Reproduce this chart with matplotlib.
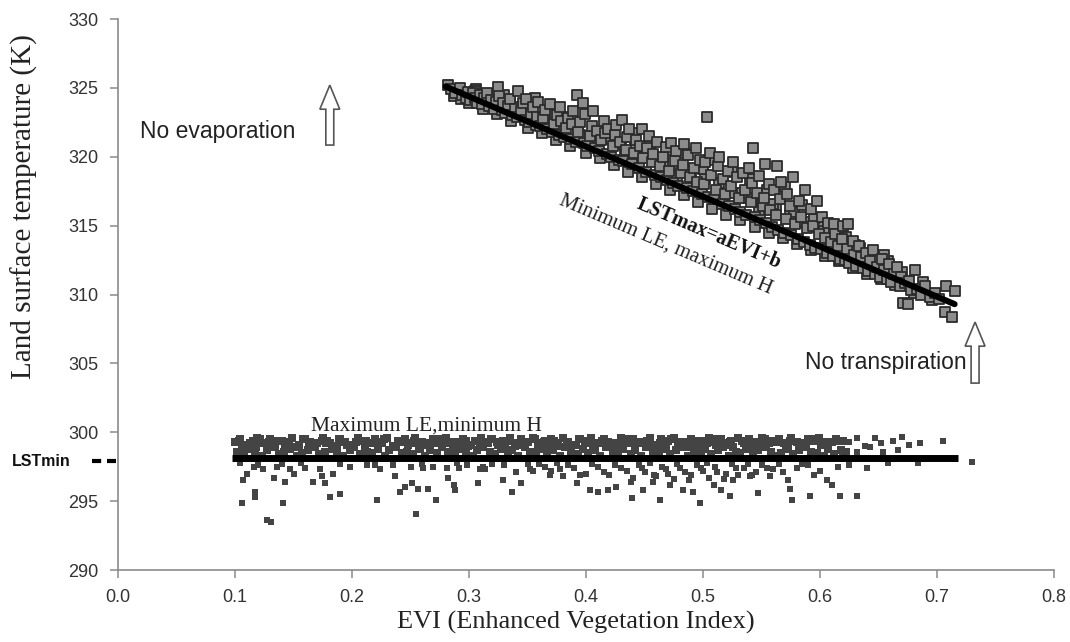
import matplotlib
matplotlib.use("Agg")
import matplotlib.pyplot as plt
from matplotlib.patches import FancyArrow
from matplotlib.ticker import FormatStrFormatter

# upper (dry edge) cloud
upper_evi = [
    0.282, 0.285, 0.288, 0.292, 0.294, 0.297, 0.299,
    0.301, 0.303, 0.305, 0.307, 0.309,
    0.311, 0.313, 0.315, 0.317, 0.319,
    0.321, 0.323, 0.325, 0.326, 0.328, 0.329,
    0.331, 0.333, 0.335, 0.337, 0.339,
    0.342, 0.341, 0.344, 0.346, 0.348, 0.349,
    0.351, 0.353, 0.355, 0.357, 0.359, 0.358,
    0.361, 0.363, 0.365, 0.367, 0.369,
    0.371, 0.373, 0.375, 0.377, 0.379, 0.378,
    0.381, 0.383, 0.385, 0.387, 0.389, 0.388,
    0.392, 0.391, 0.393, 0.395, 0.397, 0.398, 0.399,
    0.401, 0.403, 0.405, 0.406, 0.408, 0.409,
    0.411, 0.413, 0.415, 0.416, 0.418, 0.419,
    0.421, 0.423, 0.425, 0.426, 0.428, 0.429,
    0.431, 0.432, 0.434, 0.435, 0.437, 0.439,
    0.441, 0.443, 0.445, 0.446, 0.448, 0.449,
    0.451, 0.452, 0.454, 0.456, 0.457, 0.459,
    0.461, 0.463, 0.464, 0.466, 0.468, 0.469,
    0.471, 0.473, 0.474, 0.476, 0.477, 0.479,
    0.481, 0.483, 0.484, 0.486, 0.487, 0.489,
    0.491, 0.492, 0.494, 0.495, 0.497, 0.499,
    0.503, 0.501, 0.502, 0.504, 0.506, 0.507, 0.509,
    0.511, 0.513, 0.514, 0.516, 0.517, 0.519,
    0.521, 0.522, 0.524, 0.526, 0.527, 0.529,
    0.531, 0.532, 0.534, 0.536, 0.537, 0.539,
    0.543, 0.541, 0.542, 0.544, 0.546, 0.548, 0.549,
    0.553, 0.551, 0.552, 0.554, 0.556, 0.557, 0.559,
    0.563, 0.561, 0.562, 0.564, 0.566, 0.567, 0.569,
    0.571, 0.572, 0.574, 0.575, 0.577, 0.579,
    0.581, 0.582, 0.584, 0.586, 0.587, 0.589,
    0.591, 0.592, 0.594, 0.596, 0.597, 0.599,
    0.601, 0.602, 0.604, 0.606, 0.607, 0.609,
    0.612, 0.611, 0.613, 0.615, 0.617, 0.619,
    0.620, 0.624, 0.621, 0.623, 0.625, 0.628, 0.629,
    0.631, 0.633, 0.635, 0.637, 0.639,
    0.641, 0.643, 0.645, 0.647, 0.649,
    0.651, 0.653, 0.655, 0.657, 0.659,
    0.661, 0.663, 0.666, 0.668, 0.669,
    0.671, 0.675, 0.673, 0.676, 0.678,
    0.681, 0.683, 0.686, 0.690, 0.694, 0.698, 0.702, 0.707, 0.708, 0.713, 0.715,
]
upper_lst = [
    325.2, 324.9, 324.6, 325.0, 324.5, 324.3, 324.7,
    324.1, 324.6, 324.3, 323.9, 324.5,
    323.8, 324.3, 324.6, 323.7, 324.1,
    323.5, 324.0, 325.1, 324.4, 323.4, 323.9,
    323.2, 323.7, 324.2, 323.0, 323.5,
    324.8, 322.9, 323.3, 323.9, 322.7, 324.2,
    322.5, 323.1, 323.6, 322.3, 324.0, 322.9,
    322.2, 322.8, 323.4, 322.0, 323.8,
    321.8, 322.4, 323.0, 321.6, 322.6, 323.6,
    321.4, 322.1, 322.8, 321.3, 323.3, 322.4,
    324.5, 321.1, 321.8, 322.5, 323.9, 321.0, 323.1,
    320.8, 321.5, 322.2, 323.3, 320.6, 321.9,
    320.4, 321.2, 322.6, 321.7, 320.2, 322.0,
    320.0, 320.8, 321.6, 322.3, 319.8, 321.1,
    322.7, 319.7, 320.5, 321.4, 322.0, 319.5,
    320.3, 321.2, 319.2, 320.8, 322.0, 319.9,
    318.9, 320.6, 321.5, 319.6, 320.2, 318.7,
    321.1, 319.3, 318.5, 320.0, 320.7, 318.3,
    319.0, 321.0, 318.1, 319.7, 320.4, 317.9,
    318.8, 319.4, 320.9, 317.7, 320.1, 318.5,
    317.5, 319.2, 320.6, 318.2, 319.8, 317.3,
    322.9, 318.0, 319.6, 317.1, 320.3, 318.7, 316.9,
    317.6, 319.3, 320.0, 316.6, 318.4, 317.3,
    319.0, 316.4, 317.9, 319.6, 316.2, 318.5,
    317.0, 316.0, 318.8, 317.6, 315.8, 319.2,
    320.6, 316.7, 318.1, 315.6, 317.4, 318.6, 315.4,
    319.5, 316.4, 317.0, 315.2, 318.0, 316.1, 314.9,
    319.3, 317.6, 315.8, 314.7, 316.9, 318.2, 314.5,
    315.5, 317.3, 316.4, 314.3, 318.5, 315.1,
    314.0, 316.8, 315.6, 313.8, 317.6, 314.8,
    313.6, 316.2, 315.0, 313.4, 316.8, 314.4,
    313.3, 315.6, 314.1, 313.0, 315.2, 313.8,
    315.1, 312.8, 314.4, 313.5, 312.6, 314.0,
    315.0, 315.1, 312.5, 313.3, 312.3, 313.9, 312.9,
    312.1, 313.5, 312.7, 311.9, 313.0,
    311.7, 312.4, 313.2, 311.5, 312.0,
    311.3, 312.6, 311.8, 311.1, 312.2,
    310.9, 311.5, 312.0, 310.6, 311.3,
    309.4, 309.3, 310.8, 311.0, 310.3,
    311.8, 310.4, 310.0, 310.6, 309.8, 310.1, 309.7, 308.7, 310.6, 308.4, 310.25,
]
# more points inside the dry cloud body
upper_fill_evi = [
    0.287, 0.293, 0.300, 0.306, 0.312, 0.318, 0.324, 0.330, 0.336, 0.343,
    0.350, 0.356, 0.362, 0.368, 0.374, 0.380, 0.386, 0.393, 0.400, 0.406,
    0.412, 0.418, 0.424, 0.430, 0.436, 0.442, 0.448, 0.454, 0.460, 0.466,
    0.472, 0.478, 0.484, 0.490, 0.496, 0.502, 0.508, 0.514, 0.520, 0.526,
    0.532, 0.538, 0.544, 0.550, 0.556, 0.562, 0.568, 0.574, 0.580, 0.586,
    0.592, 0.598, 0.604, 0.610, 0.616, 0.622, 0.628, 0.634, 0.640, 0.646,
    0.652, 0.658, 0.664, 0.670, 0.680, 0.688, 0.696,
    0.455, 0.462, 0.470, 0.478, 0.485, 0.493, 0.500, 0.510, 0.518, 0.525,
    0.533, 0.540, 0.548, 0.555, 0.560, 0.570, 0.578, 0.585, 0.595, 0.603,
    0.615, 0.630, 0.645, 0.655, 0.665, 0.380, 0.395, 0.410, 0.420, 0.433,
    0.440, 0.350, 0.365, 0.335, 0.320, 0.305,
]
upper_fill_lst = [
    324.4, 324.2, 323.9, 324.9, 323.5, 324.4, 323.1, 324.5, 322.6, 323.6,
    322.1, 324.3, 321.7, 323.1, 321.2, 322.9, 320.8, 322.2, 320.3, 321.8,
    319.9, 321.4, 319.4, 320.9, 318.9, 320.6, 318.5, 320.0, 318.0, 319.6,
    317.6, 319.1, 317.2, 318.9, 316.7, 318.4, 316.2, 318.1, 315.8, 317.4,
    315.4, 317.0, 314.9, 316.6, 314.5, 316.3, 314.1, 315.8, 313.7, 315.3,
    313.2, 314.9, 312.8, 314.6, 312.4, 314.2, 311.9, 313.4, 311.5, 312.8,
    311.1, 312.4, 310.7, 311.6, 310.1, 310.9, 309.6,
    320.9, 319.8, 320.5, 318.6, 320.3, 318.0, 319.1, 319.8, 317.0, 318.9,
    317.4, 318.4, 316.0, 317.6, 316.6, 317.8, 316.0, 316.5, 315.5, 314.6,
    314.8, 313.6, 312.5, 312.9, 311.9, 321.9, 321.6, 320.9, 321.3, 320.2,
    321.7, 323.4, 322.6, 323.9, 323.9, 324.8,
]

# lower (wet edge) cloud, band above the wet edge in rows
band_top_evi = [
    0.100, 0.104, 0.110, 0.115, 0.119, 0.125, 0.130, 0.134, 0.140, 0.145,
    0.149, 0.155, 0.160, 0.164, 0.170, 0.175, 0.179, 0.185, 0.190, 0.194,
    0.200, 0.205, 0.209, 0.215, 0.220, 0.224, 0.230, 0.235, 0.239, 0.245,
    0.250, 0.254, 0.260, 0.265, 0.269, 0.275, 0.280, 0.284, 0.290, 0.295,
    0.299, 0.305, 0.310, 0.314, 0.320, 0.325, 0.329, 0.335, 0.340, 0.344,
    0.350, 0.355, 0.359, 0.365, 0.370, 0.374, 0.380, 0.385, 0.389, 0.395,
    0.400, 0.404, 0.410, 0.415, 0.419, 0.425, 0.430, 0.434, 0.440, 0.445,
    0.449, 0.455, 0.460, 0.464, 0.470, 0.475, 0.479, 0.485, 0.490, 0.494,
    0.500, 0.505, 0.509, 0.515, 0.520, 0.524, 0.530, 0.535, 0.539, 0.545,
    0.550, 0.554, 0.560, 0.565, 0.569, 0.575, 0.580, 0.584, 0.590, 0.595,
    0.599, 0.605, 0.610, 0.614, 0.620,
]
band_top_lst = [
    299.3, 299.5, 299.1, 299.4, 299.6, 299.2, 299.5, 299.0, 299.4, 299.3,
    299.6, 299.1, 299.5, 299.3, 299.2, 299.6, 299.4, 299.0, 299.5, 299.3,
    299.1, 299.6, 299.4, 299.2, 299.5, 299.3, 299.6, 299.0, 299.4, 299.5,
    299.2, 299.6, 299.3, 299.1, 299.5, 299.4, 299.6, 299.2, 299.3, 299.5,
    299.0, 299.4, 299.6, 299.3, 299.5, 299.1, 299.4, 299.6, 299.2, 299.5,
    299.3, 299.6, 299.0, 299.4, 299.5, 299.2, 299.6, 299.3, 299.1, 299.5,
    299.4, 299.6, 299.2, 299.5, 299.3, 299.0, 299.6, 299.4, 299.5, 299.2,
    299.3, 299.6, 299.1, 299.5, 299.4, 299.6, 299.2, 299.3, 299.5, 299.0,
    299.4, 299.6, 299.3, 299.5, 299.1, 299.4, 299.6, 299.2, 299.5, 299.3,
    299.6, 299.0, 299.4, 299.5, 299.2, 299.6, 299.3, 299.1, 299.5, 299.4,
    299.6, 299.2, 299.3, 299.5, 299.4,
]
band_upper_evi = [
    0.103, 0.113, 0.121, 0.129, 0.137, 0.146, 0.158, 0.163, 0.174, 0.181,
    0.189, 0.203, 0.212, 0.219, 0.227, 0.241, 0.253, 0.263, 0.276, 0.283,
    0.297, 0.309, 0.319, 0.324, 0.334, 0.347, 0.356, 0.364, 0.373, 0.384,
    0.394, 0.403, 0.414, 0.424, 0.433, 0.443, 0.452, 0.463, 0.473, 0.482,
    0.493, 0.503, 0.512, 0.523, 0.533, 0.542, 0.553, 0.563, 0.574, 0.583,
    0.594, 0.604, 0.616,
]
band_upper_lst = [
    299.4, 299.2, 299.5, 299.3, 299.4, 299.2, 299.5, 299.3, 299.4, 299.2,
    299.5, 299.3, 299.4, 299.2, 299.5, 299.3, 299.4, 299.2, 299.5, 299.3,
    299.4, 299.2, 299.5, 299.3, 299.4, 299.2, 299.5, 299.3, 299.4, 299.2,
    299.5, 299.3, 299.4, 299.2, 299.5, 299.3, 299.4, 299.2, 299.5, 299.3,
    299.4, 299.2, 299.5, 299.3, 299.4, 299.2, 299.5, 299.3, 299.4, 299.2,
    299.5, 299.3, 299.4,
]
band_bot_evi = [
    0.102, 0.108, 0.112, 0.117, 0.123, 0.127, 0.132, 0.138, 0.142, 0.147,
    0.153, 0.157, 0.162, 0.168, 0.172, 0.177, 0.183, 0.187, 0.192, 0.198,
    0.202, 0.207, 0.213, 0.217, 0.222, 0.228, 0.232, 0.237, 0.243, 0.247,
    0.252, 0.258, 0.262, 0.267, 0.273, 0.277, 0.282, 0.288, 0.292, 0.297,
    0.303, 0.307, 0.312, 0.318, 0.322, 0.327, 0.333, 0.337, 0.342, 0.348,
    0.352, 0.357, 0.363, 0.367, 0.372, 0.378, 0.382, 0.387, 0.393, 0.397,
    0.402, 0.408, 0.412, 0.417, 0.423, 0.427, 0.432, 0.438, 0.442, 0.447,
    0.453, 0.457, 0.462, 0.468, 0.472, 0.477, 0.483, 0.487, 0.492, 0.498,
    0.502, 0.507, 0.513, 0.517, 0.522, 0.528, 0.532, 0.537, 0.543, 0.547,
    0.552, 0.558, 0.562, 0.567, 0.573, 0.577, 0.582, 0.588, 0.592, 0.597,
    0.603, 0.607, 0.612, 0.618, 0.622,
]
band_bot_lst = [
    298.6, 298.4, 298.8, 298.5, 298.3, 298.7, 298.9, 298.4, 298.6, 298.8,
    298.3, 298.5, 298.7, 298.9, 298.4, 298.6, 298.8, 298.5, 298.3, 298.7,
    298.9, 298.4, 298.6, 298.5, 298.8, 298.3, 298.7, 298.9, 298.5, 298.6,
    298.4, 298.8, 298.3, 298.7, 298.5, 298.9, 298.6, 298.4, 298.8, 298.5,
    298.3, 298.7, 298.9, 298.6, 298.4, 298.8, 298.5, 298.7, 298.3, 298.9,
    298.6, 298.4, 298.8, 298.5, 298.7, 298.3, 298.9, 298.6, 298.4, 298.8,
    298.5, 298.7, 298.3, 298.9, 298.6, 298.5, 298.8, 298.4, 298.7, 298.3,
    298.9, 298.6, 298.5, 298.8, 298.4, 298.7, 298.9, 298.3, 298.6, 298.5,
    298.8, 298.4, 298.7, 298.9, 298.3, 298.6, 298.5, 298.8, 298.4, 298.7,
    298.9, 298.6, 298.3, 298.5, 298.8, 298.4, 298.7, 298.9, 298.6, 298.5,
    298.3, 298.8, 298.4, 298.7, 298.6,
]
band_mid_evi = [
    0.106, 0.118, 0.131, 0.143, 0.152, 0.166, 0.178, 0.187, 0.196, 0.211,
    0.226, 0.238, 0.248, 0.257, 0.271, 0.286, 0.294, 0.302, 0.316, 0.331,
    0.339, 0.346, 0.361, 0.369, 0.376, 0.391, 0.399, 0.406, 0.421, 0.429,
    0.436, 0.451, 0.459, 0.466, 0.481, 0.489, 0.496, 0.511, 0.519, 0.526,
    0.541, 0.549, 0.556, 0.571, 0.586, 0.601,
]
band_mid_lst = [
    299.0, 298.9, 299.2, 299.1, 298.9, 299.0, 299.2, 298.9, 299.1, 299.0,
    299.2, 298.9, 299.1, 299.0, 299.2, 298.9, 299.0, 299.1, 299.2, 298.9,
    299.0, 299.1, 299.2, 298.9, 299.0, 299.1, 299.2, 298.9, 299.0, 299.1,
    299.2, 298.9, 299.0, 299.1, 299.2, 298.9, 299.0, 299.1, 299.2, 298.9,
    299.0, 299.1, 299.2, 298.9, 299.0, 299.1,
]
band_tail_evi = [0.625, 0.632, 0.638, 0.647, 0.652, 0.662, 0.670, 0.676, 0.685,
                 0.705, 0.619, 0.632, 0.654, 0.658, 0.684, 0.730, 0.643, 0.667]
band_tail_lst = [299.3, 299.6, 299.0, 299.6, 299.2, 299.4, 299.65, 299.1, 299.2,
                 299.4, 298.55, 298.55, 298.55, 297.8, 297.8, 297.85, 298.9, 298.7]

# scattered points below the wet edge
low_evi = [
    0.107, 0.106, 0.117, 0.117, 0.110, 0.127, 0.131, 0.133, 0.143, 0.141,
    0.150, 0.167, 0.174, 0.177, 0.181, 0.190, 0.184, 0.221, 0.237, 0.241,
    0.245, 0.251, 0.256, 0.255, 0.265, 0.272, 0.261, 0.282, 0.287, 0.288,
    0.308, 0.309, 0.291,
    0.104, 0.116, 0.124, 0.136, 0.147, 0.156, 0.173, 0.198, 0.213, 0.224,
    0.235, 0.250, 0.269, 0.281, 0.298, 0.312,
    0.314, 0.329, 0.337, 0.344, 0.352, 0.369, 0.378, 0.392, 0.395, 0.403,
    0.410, 0.419, 0.426, 0.439, 0.449, 0.463, 0.457, 0.472, 0.483, 0.491,
    0.497, 0.509, 0.515, 0.523, 0.526, 0.547, 0.540, 0.557, 0.573, 0.574,
    0.576, 0.591, 0.606, 0.610, 0.617, 0.632,
    0.330, 0.340, 0.360, 0.370, 0.385, 0.400, 0.410, 0.420, 0.430, 0.440,
    0.445, 0.450, 0.460, 0.465, 0.470, 0.475, 0.480, 0.490, 0.495, 0.500,
    0.505, 0.510, 0.520, 0.525, 0.530, 0.535, 0.545, 0.550, 0.560, 0.565,
    0.580, 0.590, 0.600, 0.615, 0.625, 0.640,
    0.350, 0.355, 0.365, 0.375, 0.380, 0.390, 0.405, 0.415, 0.425, 0.435,
    0.438, 0.448, 0.455, 0.458, 0.468, 0.478, 0.485, 0.488, 0.498, 0.503,
    0.512, 0.518, 0.528, 0.538, 0.542, 0.555, 0.568, 0.585, 0.595, 0.120,
    0.140, 0.160, 0.190, 0.220, 0.260, 0.290, 0.320,
]
low_lst = [
    296.5, 294.9, 295.7, 295.3, 297.0, 293.6, 293.5, 296.7, 296.4, 294.9,
    297.0, 296.4, 296.8, 296.3, 295.3, 295.5, 297.0, 295.1, 296.8, 295.7,
    296.0, 296.3, 295.9, 294.1, 295.9, 295.1, 297.4, 296.7, 296.2, 295.8,
    296.3, 297.3, 297.4,
    297.8, 297.5, 297.3, 297.5, 297.3, 297.8, 297.3, 297.5, 297.6, 297.3,
    297.6, 297.5, 297.5, 297.4, 297.6, 297.5,
    297.3, 296.5, 295.7, 296.3, 297.3, 296.9, 297.3, 296.3, 296.9, 295.8,
    295.7, 295.8, 296.0, 295.2, 295.8, 295.1, 296.4, 296.2, 295.8, 295.7,
    294.9, 296.2, 295.8, 295.4, 296.5, 295.6, 296.8, 296.8, 296.5, 295.9,
    295.1, 295.4, 296.5, 296.2, 295.4, 295.4,
    297.6, 297.1, 297.7, 297.2, 297.6, 297.0, 297.5, 296.9, 297.4, 296.7,
    297.6, 297.1, 296.8, 297.5, 297.0, 296.6, 297.4, 296.9, 297.6, 297.2,
    296.7, 297.5, 297.0, 297.7, 296.9, 297.4, 297.1, 297.6, 297.3, 297.7,
    297.4, 297.6, 297.2, 297.5, 297.6, 297.4,
    297.7, 297.2, 297.5, 297.8, 296.8, 297.4, 297.7, 297.1, 297.6, 297.2,
    296.4, 297.4, 297.8, 296.9, 297.3, 297.7, 297.1, 296.5, 297.4, 297.8,
    297.1, 296.6, 297.4, 297.7, 296.9, 297.4, 297.1, 297.7, 296.9, 297.6,
    297.7, 297.4, 297.7, 297.6, 297.7, 297.8, 297.7,
]

# fitted edges
dry_evi = [0.28, 0.715]
dry_lst = [325.1, 309.3]
wet_evi = [0.097, 0.718]
wet_lst = [298.1, 298.1]
lst_min = 297.9

sans = "Liberation Sans"
serif = "Liberation Serif"

fig = plt.figure(figsize=(10.7, 6.42), dpi=100)
ax = fig.add_axes([0.1103, 0.1121, 0.8748, 0.8583])

dry_style = dict(marker="s", s=42, facecolor="#8c8c8c", edgecolor="#2b2b2b",
                 linewidths=1.3, zorder=2)
ax.scatter(upper_fill_evi, upper_fill_lst, **dry_style)
ax.scatter(upper_evi, upper_lst, **dry_style)
ax.plot(dry_evi, dry_lst, color="black", lw=4.4, solid_capstyle="round", zorder=3)

band_style = dict(marker="s", s=32, color="#444444", linewidths=0, zorder=2)
ax.scatter(band_top_evi, band_top_lst, **band_style)
ax.scatter(band_upper_evi, band_upper_lst, **band_style)
ax.scatter(band_mid_evi, band_mid_lst, **band_style)
ax.scatter(band_bot_evi, band_bot_lst, **band_style)
low_style = dict(marker="s", s=24, color="#444444", linewidths=0, zorder=2)
ax.scatter(band_tail_evi, band_tail_lst, **low_style)
ax.scatter(low_evi, low_lst, **low_style)
ax.plot(wet_evi, wet_lst, color="black", lw=5, solid_capstyle="butt", zorder=3)

ax.set_xlim(0, 0.8)
ax.set_ylim(290, 330)
ax.set_xticks([0.0, 0.1, 0.2, 0.3, 0.4, 0.5, 0.6, 0.7, 0.8])
ax.set_yticks([290, 295, 300, 305, 310, 315, 320, 325, 330])
ax.xaxis.set_major_formatter(FormatStrFormatter("%.1f"))
ax.yaxis.set_major_formatter(FormatStrFormatter("%d"))

for side in ["top", "right"]:
    ax.spines[side].set_visible(False)
for side in ["left", "bottom"]:
    ax.spines[side].set_color("#8a8a8a")
    ax.spines[side].set_linewidth(1.2)
ax.tick_params(axis="both", direction="out", length=6, width=1.1, color="#8a8a8a",
               labelsize=13, labelcolor="#333333")
ax.tick_params(axis="x", pad=8)
ax.tick_params(axis="y", pad=8)
for lab in ax.get_xticklabels() + ax.get_yticklabels():
    lab.set_fontfamily(sans)

ax.set_xlabel("EVI (Enhanced Vegetation Index)", fontfamily=serif, fontsize=19,
              color="#222222")
ax.xaxis.set_label_coords(0.489, -0.075)
ax.set_ylabel("Land surface temperature (K)", fontfamily=serif, fontsize=21,
              color="#222222")
ax.yaxis.set_label_coords(-0.085, 0.66)

# LSTmin marker outside the axis
ax.plot([-0.022, -0.002], [lst_min, lst_min], color="black", lw=3,
        linestyle=(0, (2.2, 1.4)), clip_on=False)
ax.text(-0.0906, lst_min, "LSTmin", fontfamily=sans, fontsize=11.5,
        fontweight="bold", ha="left", va="center", color="#111111")

# annotations
ax.text(0.0188, 321.85, "No evaporation", fontfamily=sans, fontsize=16.5,
        ha="left", va="center", color="#222222")
ax.text(0.7256, 305.1, "No transpiration", fontfamily=sans, fontsize=16.5,
        ha="right", va="center", color="#222222")
ax.text(0.2637, 300.15, "Maximum LE,minimum H", fontfamily=serif, fontsize=15.5,
        ha="center", va="baseline", color="#222222")
ax.text(0.505, 314.45, "LSTmax=aEVI+b", fontfamily=serif, fontsize=14.5,
        fontweight="bold", ha="center", va="center", rotation=-23,
        rotation_mode="anchor", color="#111111")
ax.text(0.468, 313.6, "Minimum LE, maximum H", fontfamily=serif, fontsize=15,
        ha="center", va="center", rotation=-23, rotation_mode="anchor",
        color="#222222")

# hollow up arrows
for ax_x, y0, dy in [(0.181, 320.85, 4.35), (0.7325, 303.57, 4.43)]:
    arr = FancyArrow(ax_x, y0, 0, dy, width=0.0068, head_width=0.017,
                     head_length=1.75, length_includes_head=True,
                     facecolor="white", edgecolor="#555555", linewidth=1.2,
                     zorder=4)
    ax.add_patch(arr)

fig.savefig("out.png", dpi=100, facecolor="white")
